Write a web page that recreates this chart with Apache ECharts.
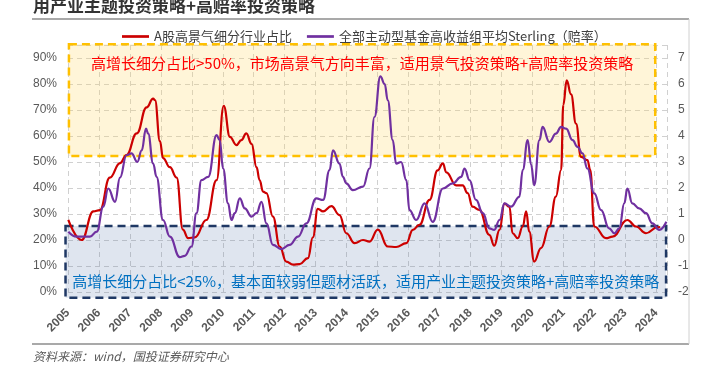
<!DOCTYPE html>
<html><head><meta charset="utf-8">
<script src="https://cdn.jsdelivr.net/npm/echarts@6/dist/echarts.min.js"></script>
<style>html,body{margin:0;padding:0;background:#fff}#c{width:705px;height:373px}</style>
</head><body><div id="c"></div>
<script>
const titleText = '用产业主题投资策略+高赔率投资策略';
const legendNames = ['A股高景气细分行业占比', '全部主动型基金高收益组平均Sterling（赔率）'];
const yearTicks = [2005,2006,2007,2008,2009,2010,2011,2012,2013,2014,2015,2016,2017,2018,2019,2020,2021,2022,2023,2024];
const highText = '高增长细分占比>50%，市场高景气方向丰富，适用景气投资策略+高赔率投资策略';
const lowText = '高增长细分占比<25%，基本面较弱但题材活跃，适用产业主题投资策略+高赔率投资策略';
const sourceText = '资料来源：wind，国投证券研究中心';

// [year, share %]
const redData = [
[2005.01,27.7],[2005.44,20],[2005.82,31],[2006.03,31.5],[2006.35,44],[2006.68,49.6],[2006.89,52.7],
[2007.22,61],[2007.54,71],[2007.75,74.4],[2007.81,73.8],[2007.97,58],[2008.07,51.5],[2008.29,48],
[2008.51,44],[2008.71,24],[2008.88,20.7],[2009.10,21],[2009.47,27.7],[2009.80,43],[2010.03,71.6],
[2010.23,59.7],[2010.44,56.5],[2010.60,58.4],[2010.76,61],[2010.93,57],[2011.09,48],[2011.19,43],
[2011.30,38.6],[2011.41,38],[2011.62,29],[2011.84,17.5],[2012.05,11.7],[2012.27,10.5],[2012.48,10.7],
[2012.75,13],[2012.91,21],[2013.07,32],[2013.24,31],[2013.51,33],[2013.77,29.6],[2013.99,22.6],
[2014.26,18.8],[2014.53,20],[2014.74,19.4],[2015.01,24],[2015.33,17.5],[2015.60,17.3],[2015.93,18.8],
[2016.14,23.9],[2016.35,25.8],[2016.68,35.4],[2016.94,46.8],[2017.11,49.5],[2017.22,46],[2017.54,41],
[2017.75,41],[2017.91,38],[2018.07,32.8],[2018.29,31.6],[2018.61,22],[2018.77,17.8],[2018.94,23.9],
[2019.10,34],[2019.26,32.8],[2019.36,22.6],[2019.53,20.7],[2019.69,25.2],[2019.80,31],[2019.90,23.2],
[2020.06,11.7],[2020.28,16.9],[2020.55,25.2],[2020.76,36.7],[2020.93,47],[2021.00,72],[2021.11,81.4],
[2021.25,76],[2021.41,64.8],[2021.57,52],[2021.78,50.7],[2021.87,47],[2022.00,25.2],[2022.38,20.7],
[2022.59,21.3],[2023.07,27.7],[2023.35,25.2],[2023.67,22.6],[2024.04,24.9],[2024.13,25]
];
// [year, Sterling]
const purpleData = [
[2005.01,0.32],[2005.28,0.13],[2005.71,0.13],[2005.93,0.32],[2006.14,1.28],[2006.30,1.98],[2006.52,1.47],
[2006.68,2.4],[2006.89,3.26],[2007.05,3.33],[2007.24,3.0],[2007.38,3.45],[2007.52,4.28],[2007.59,4.09],
[2007.75,2.94],[2007.86,2.43],[2008.07,0.77],[2008.29,0.13],[2008.61,-0.66],[2008.77,-0.61],[2008.99,-0.25],
[2009.15,1.03],[2009.31,2.3],[2009.53,2.43],[2009.80,4.03],[2009.90,3.84],[2010.01,2.75],[2010.17,1.41],
[2010.28,0.77],[2010.39,1.03],[2010.55,1.6],[2010.71,1.22],[2010.93,0.9],[2011.09,1.03],[2011.25,1.47],
[2011.41,0.64],[2011.62,-0.19],[2011.89,-0.35],[2012.16,-0.19],[2012.43,0.13],[2012.70,0.64],[2013.02,1.6],
[2013.24,1.54],[2013.45,2.69],[2013.56,3.45],[2013.77,2.94],[2013.88,2.43],[2013.99,2.18],[2014.20,1.92],
[2014.53,2.05],[2014.74,2.75],[2014.90,4.73],[2015.09,6.29],[2015.23,6.0],[2015.33,5.37],[2015.49,3.84],
[2015.60,2.94],[2015.76,3.0],[2015.93,2.3],[2016.03,1.15],[2016.25,0.77],[2016.52,1.41],[2016.78,0.70],
[2017.11,1.98],[2017.43,2.18],[2017.70,2.43],[2017.81,2.75],[2017.97,2.3],[2018.18,1.54],[2018.40,1.03],
[2018.61,0.45],[2018.77,0.39],[2018.94,0.77],[2019.10,1.41],[2019.31,1.28],[2019.58,1.66],[2019.69,2.7],
[2019.85,3.84],[2019.96,2.9],[2020.06,2.11],[2020.23,3.84],[2020.33,4.35],[2020.55,3.77],[2020.76,4.09],
[2020.93,4.35],[2021.09,4.28],[2021.30,3.84],[2021.46,3.58],[2021.62,3.33],[2021.78,2.75],[2022.00,1.79],
[2022.22,1.15],[2022.48,0.45],[2022.65,0.26],[2022.81,0.45],[2022.97,1.41],[2023.07,1.98],[2023.23,1.41],
[2023.45,1.22],[2023.67,1.03],[2023.88,0.64],[2024.10,0.39],[2024.33,0.70]
];

const chart = echarts.init(document.getElementById('c'), null, {renderer: 'canvas'});
const gray = '#595959';
const cjk = '"Noto Sans CJK SC", "Microsoft YaHei", sans-serif';
const latin = '"Liberation Sans", Arial, sans-serif';
const splitStyle = {show: true, lineStyle: {color: '#D0D0D0', type: [5, 4], width: 1}};
const lineIcon = 'path://M0,0L40,0L40,4L0,4Z';
chart.setOption({
  animation: false,
  backgroundColor: '#fff',
  textStyle: {fontFamily: cjk},
  grid: {left: 68, right: 38, top: 45, bottom: 81, containLabel: false},
  legend: {
    left: 117, top: 25, itemWidth: 27, itemHeight: 3, itemGap: 15,
    textStyle: {fontSize: 13, color: '#404040', fontFamily: cjk},
    data: [{name: legendNames[0], icon: lineIcon}, {name: legendNames[1], icon: lineIcon}]
  },
  xAxis: {
    type: 'value', min: 2005, max: 2024.35, interval: 1,
    axisLine: {show: false}, axisTick: {show: false},
    splitLine: splitStyle,
    axisLabel: {
      rotate: 45, margin: 19, color: gray, fontSize: 12, fontWeight: 'bold',
      fontFamily: latin, showMaxLabel: false,
      formatter: v => yearTicks.indexOf(Math.round(v)) >= 0 && Math.abs(v - Math.round(v)) < 1e-6 ? String(Math.round(v)) : ''
    }
  },
  yAxis: [
    {
      type: 'value', min: 0, max: 95, interval: 10, position: 'left',
      axisLine: {show: false}, axisTick: {show: false}, splitLine: splitStyle,
      axisLabel: {color: gray, fontSize: 12, margin: 11, showMaxLabel: false,
        fontFamily: latin, formatter: '{value}%'}
    },
    {
      type: 'value', min: -2, max: 7.5, interval: 1, position: 'right',
      axisLine: {show: false}, axisTick: {show: false}, splitLine: {show: false},
      axisLabel: {color: gray, fontSize: 12, margin: 11, showMaxLabel: false, fontFamily: latin}
    }
  ],
  series: [
    {
      name: legendNames[0], type: 'line', yAxisIndex: 0, data: redData,
      smooth: 0.45, smoothMonotone: 'x', symbol: 'none', z: 5,
      lineStyle: {color: '#CC0000', width: 2.2}, itemStyle: {color: '#CC0000'}
    },
    {
      name: legendNames[1], type: 'line', yAxisIndex: 1, data: purpleData,
      smooth: 0.45, smoothMonotone: 'x', symbol: 'none', z: 5,
      lineStyle: {color: '#7030A0', width: 2.2}, itemStyle: {color: '#7030A0'}
    }
  ]
});

const px = (x, y) => chart.convertToPixel({xAxisIndex: 0, yAxisIndex: 0}, [x, y]);
const hiA = px(2005.03, 95.3), hiB = px(2023.97, 52.3);
const loA = px(2004.92, 25.4), loB = px(2024.32, -2.2);
const hiT = px((2005.03 + 2023.97) / 2, 88);
const loT = px((2004.92 + 2024.32) / 2, 4);
chart.setOption({
  graphic: [
    {type: 'rect', z: 1, silent: true,
      shape: {x: hiA[0], y: hiA[1], width: hiB[0] - hiA[0], height: hiB[1] - hiA[1]},
      style: {fill: 'rgba(255,214,100,0.25)', stroke: '#FFC000', lineWidth: 2.5, lineDash: [8, 5]}},
    {type: 'rect', z: 1, silent: true,
      shape: {x: loA[0], y: loA[1], width: loB[0] - loA[0], height: loB[1] - loA[1]},
      style: {fill: 'rgba(68,100,160,0.17)', stroke: '#1F3864', lineWidth: 2.5, lineDash: [8, 5]}},
    {type: 'text', z: 10, silent: true, x: hiT[0], y: hiT[1],
      style: {text: highText, fill: '#FF0000', font: '15px ' + cjk, textAlign: 'center', textVerticalAlign: 'middle'}},
    {type: 'text', z: 10, silent: true, x: loT[0], y: loT[1],
      style: {text: lowText, fill: '#0070C0', font: '15px ' + cjk, textAlign: 'center', textVerticalAlign: 'middle'}},
    {type: 'text', z: 10, silent: true, x: 33, y: 6,
      style: {text: titleText, fill: '#333333', font: 'bold 17px ' + cjk, textAlign: 'left', textVerticalAlign: 'middle'}},
    {type: 'line', z: 10, silent: true, shape: {x1: 32, y1: 19, x2: 689, y2: 19}, style: {stroke: '#8C8C8C', lineWidth: 1.5}},
    {type: 'line', z: 10, silent: true, shape: {x1: 32, y1: 344, x2: 689, y2: 344}, style: {stroke: '#8C8C8C', lineWidth: 1.5}},
    {type: 'line', z: 10, silent: true, shape: {x1: 689, y1: 19, x2: 689, y2: 344}, style: {stroke: '#D0D0D0', lineWidth: 1}},
    {type: 'text', z: 10, silent: true, x: 33, y: 356,
      style: {text: sourceText, fill: '#595959', font: 'italic 12px ' + cjk, textAlign: 'left', textVerticalAlign: 'middle'}}
  ]
});
</script>
</body></html>
